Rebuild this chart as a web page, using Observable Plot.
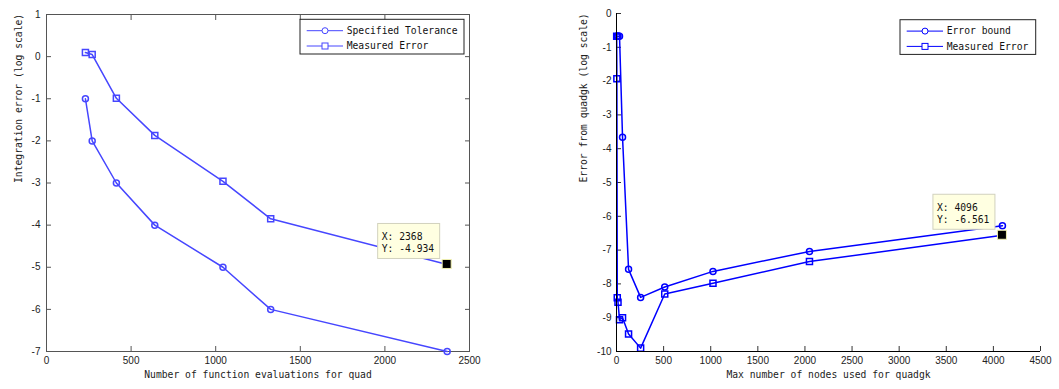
<!DOCTYPE html>
<html><head><meta charset="utf-8">
<script src="https://cdn.jsdelivr.net/npm/d3@7"></script>
<script src="https://cdn.jsdelivr.net/npm/@observablehq/plot@0.6"></script>
<style>
body{margin:0;background:#fff;}
#wrap{display:flex;width:1059px;height:389px;overflow:hidden;}
#wrap svg{display:block;}
</style></head><body><div id="wrap"></div>
<script>
// ---- Left chart data (quad) ----
const quadEvals      = [230, 270, 413, 640, 1043, 1325, 2368];
const quadTolerance  = [-1, -2, -3, -4, -5, -6, -7];
const quadMeasured   = [0.1, 0.05, -0.99, -1.87, -2.96, -3.85, -4.934];
const quadXTicks     = [0, 500, 1000, 1500, 2000, 2500];
const quadYTicks     = [-7, -6, -5, -4, -3, -2, -1, 0, 1];
const quadTip        = {x: 2368, y: -4.934, lines: ["X: 2368", "Y: -4.934"]};

// ---- Right chart data (quadgk) ----
const boundNodes     = [4, 8, 16, 32, 64, 128, 256, 512, 1024, 2048, 4096];
const boundError     = [-0.67, -0.67, -0.67, -0.67, -3.66, -7.57, -8.40, -8.09, -7.63, -7.04, -6.28];
const measNodes      = [2, 4, 8, 16, 32, 64, 128, 256, 512, 1024, 2048, 4096];
const measError      = [-0.67, -1.93, -8.41, -8.54, -9.06, -9.0, -9.48, -9.9, -8.3, -7.98, -7.34, -6.561];
const gkXTicks       = [0, 500, 1000, 1500, 2000, 2500, 3000, 3500, 4000, 4500];
const gkYTicks       = [-10, -9, -8, -7, -6, -5, -4, -3, -2, -1, 0];
const gkTip          = {x: 4096, y: -6.561, lines: ["X: 4096", "Y: -6.561"]};

const fontTick = "'Liberation Sans', Arial, sans-serif";
const fontMono = "'DejaVu Sans Mono', monospace";
const fmt = d => String(d);
const leftColor = "#4646ff";
const rightColor = "#0000ff";

const leftTol = quadEvals.map((x, i) => ({x, y: quadTolerance[i]}));
const leftMeas = quadEvals.map((x, i) => ({x, y: quadMeasured[i]}));
const rightBound = boundNodes.map((x, i) => ({x, y: boundError[i]}));
const rightMeas = measNodes.map((x, i) => ({x, y: measError[i]}));

function addTip(svg, tip) {
  const px = svg.scale("x").apply(tip.x), py = svg.scale("y").apply(tip.y);
  const g = d3.select(svg).append("g").attr("text-anchor", "start");
  g.append("rect").attr("x", px - 69).attr("y", py - 40.5).attr("width", 62).attr("height", 35)
    .attr("fill", "#ffffe1").attr("stroke", "#d2d2be");
  tip.lines.forEach((t, i) => g.append("text").attr("x", px - 65).attr("y", py - 24 + 12 * i)
    .attr("text-anchor", "start")
    .attr("font-family", fontMono).attr("font-size", 9.7).attr("fill", "#111").text(t));
  g.append("rect").attr("x", px - 4.5).attr("y", py - 4.5).attr("width", 9).attr("height", 9)
    .attr("fill", "#000").attr("stroke", "#f0f0b0").attr("stroke-width", 1);
}

function addLegend(svg, x0, y0, w, names, color) {
  const g = d3.select(svg).append("g").attr("text-anchor", "start");
  g.append("rect").attr("x", x0).attr("y", y0).attr("width", w).attr("height", 34.7)
    .attr("fill", "white").attr("stroke", "#222").attr("stroke-width", 1);
  names.forEach((name, i) => {
    const y = y0 + 11.4 + 15.3 * i;
    g.append("line").attr("x1", x0 + 6.7).attr("x2", x0 + 43).attr("y1", y).attr("y2", y)
      .attr("stroke", color);
    if (i === 0) g.append("circle").attr("cx", x0 + 25).attr("cy", y).attr("r", 3)
      .attr("fill", "white").attr("stroke", color);
    else g.append("rect").attr("x", x0 + 22).attr("y", y - 3).attr("width", 6).attr("height", 6)
      .attr("fill", "white").attr("stroke", color);
    g.append("text").attr("x", x0 + 46.7).attr("y", y).attr("dy", "0.35em")
      .attr("text-anchor", "start")
      .attr("font-family", fontMono).attr("font-size", 9.7).attr("fill", "#111").text(name);
  });
}

const left = Plot.plot({
  width: 530, height: 389,
  marginLeft: 46, marginRight: 61, marginTop: 14, marginBottom: 38,
  style: {fontFamily: fontTick, fontSize: "10px", color: "#222", background: "white"},
  x: {domain: [0, 2500]},
  y: {domain: [-7, 1]},
  marks: [
    Plot.frame({stroke: "#555"}),
    Plot.axisX(quadXTicks, {anchor: "bottom", tickSize: -5, tickPadding: 10, tickFormat: fmt, label: null, stroke: "#555", fill: "#222"}),
    Plot.axisX(quadXTicks, {anchor: "top", tickSize: -5, tickFormat: () => "", label: null, stroke: "#555"}),
    Plot.axisY(quadYTicks, {anchor: "left", tickSize: -5, tickPadding: 11, tickFormat: fmt, label: null, stroke: "#555", fill: "#222"}),
    Plot.axisY(quadYTicks, {anchor: "right", tickSize: -5, tickFormat: () => "", label: null, stroke: "#555"}),
    Plot.line(leftTol, {x: "x", y: "y", stroke: leftColor}),
    Plot.dot(leftTol, {x: "x", y: "y", r: 3, stroke: leftColor, symbol: "circle"}),
    Plot.line(leftMeas, {x: "x", y: "y", stroke: leftColor}),
    Plot.dot(leftMeas, {x: "x", y: "y", r: 3.4, stroke: leftColor, symbol: "square"}),
    Plot.text(["Number of function evaluations for quad"], {frameAnchor: "bottom", dy: 26, fontFamily: fontMono, fontSize: 9.7, fill: "#222"}),
    Plot.text(["Integration error (log scale)"], {frameAnchor: "left", rotate: -90, dx: -28, fontFamily: fontMono, fontSize: 9.7, fill: "#222"})
  ]
});
addTip(left, quadTip);
addLegend(left, 300, 19.3, 164, ["Specified Tolerance", "Measured Error"], leftColor);

const right = Plot.plot({
  width: 529, height: 389,
  marginLeft: 86, marginRight: 19, marginTop: 13, marginBottom: 38,
  style: {fontFamily: fontTick, fontSize: "10px", color: "#222", background: "white"},
  x: {domain: [0, 4500]},
  y: {domain: [-10, 0]},
  marks: [
    Plot.axisX(gkXTicks, {anchor: "bottom", tickSize: -5, tickPadding: 10, tickFormat: fmt, label: null, stroke: "#333", fill: "#222"}),
    Plot.axisY(gkYTicks, {anchor: "left", tickSize: -5, tickPadding: 10, tickFormat: fmt, label: null, stroke: "#333", fill: "#222"}),
    Plot.line(rightBound, {x: "x", y: "y", stroke: rightColor}),
    Plot.dot(rightBound, {x: "x", y: "y", r: 3, stroke: rightColor, symbol: "circle"}),
    Plot.line(rightMeas, {x: "x", y: "y", stroke: rightColor}),
    Plot.dot(rightMeas, {x: "x", y: "y", r: 3.4, stroke: rightColor, symbol: "square"}),
    Plot.ruleX([0], {stroke: "#000"}),
    Plot.ruleY([-10], {stroke: "#000"}),
    Plot.text(["Max number of nodes used for quadgk"], {frameAnchor: "bottom", dy: 26, fontFamily: fontMono, fontSize: 9.7, fill: "#222"}),
    Plot.text(["Error from quadgk (log scale)"], {frameAnchor: "left", rotate: -90, dx: -33, fontFamily: fontMono, fontSize: 9.7, fill: "#222"})
  ]
});
addTip(right, gkTip);
addLegend(right, 370, 19.7, 135.7, ["Error bound", "Measured Error"], rightColor);

document.getElementById("wrap").append(left, right);
</script></body></html>
